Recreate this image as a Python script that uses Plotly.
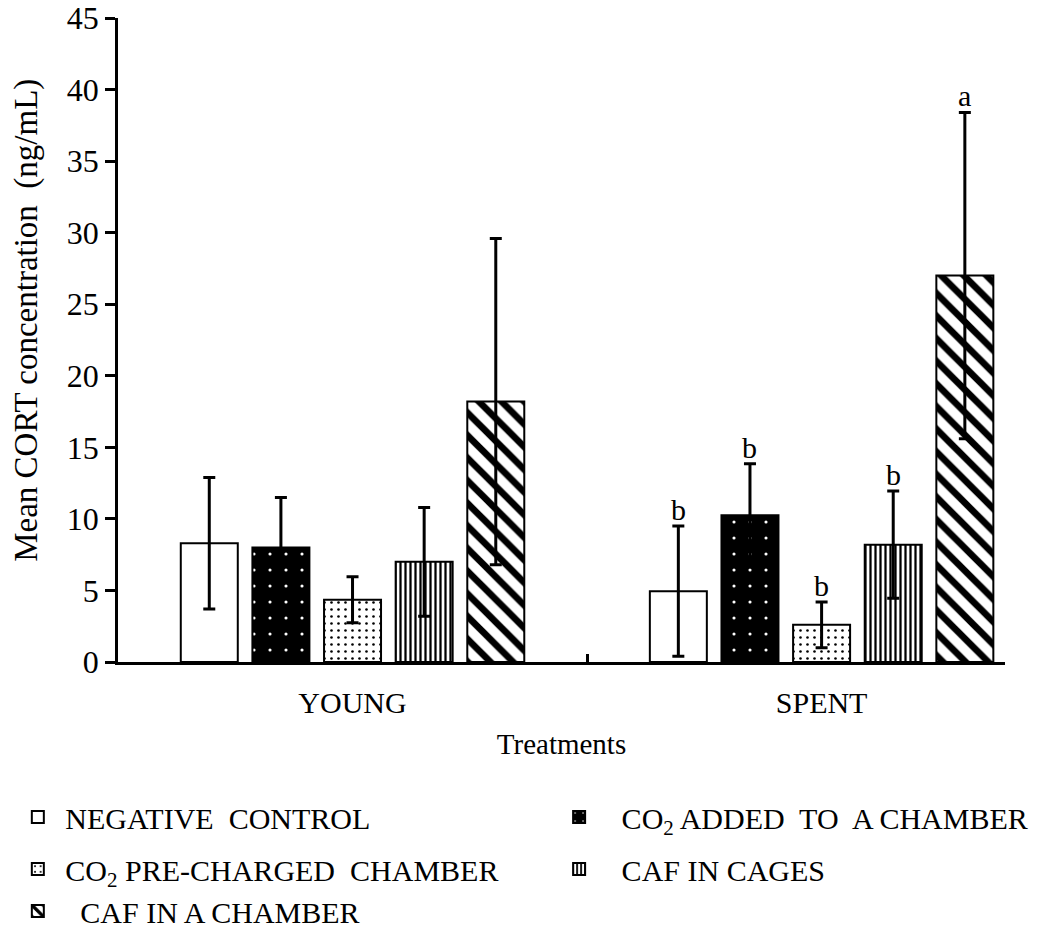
import plotly.graph_objects as go

# Groups on the x axis
groups = ["YOUNG", "SPENT"]

# Treatments (legend entries)
treatments = [
    "NEGATIVE\u00a0 CONTROL",
    "CO<sub>2</sub> ADDED\u00a0 TO\u00a0 A CHAMBER",
    "CO<sub>2</sub> PRE-CHARGED\u00a0 CHAMBER",
    "CAF IN CAGES",
    "CAF IN A CHAMBER",
]

# Mean CORT (ng/mL) per treatment, for YOUNG and SPENT
young_mean = [8.3, 8.0, 4.35, 7.0, 18.2]
spent_mean = [4.95, 10.25, 2.6, 8.2, 27.0]

# Error bar half-lengths
young_err = [4.6, 3.5, 1.6, 3.8, 11.4]
spent_err = [4.55, 3.6, 1.6, 3.75, 11.4]

# Significance letters (SPENT only)
young_sig = ["", "", "", "", ""]
spent_sig = ["b", "b", "b", "b", "a"]

FONT = "Liberation Serif"

# fill styles for each treatment
styles = [
    dict(color="white", pattern=dict(shape="")),
    dict(color="black", pattern=dict(shape=".", fgcolor="white", bgcolor="black",
                                     fgopacity=1, size=16, solidity=0.03)),
    dict(color="white", pattern=dict(shape=".", fgcolor="black", bgcolor="white",
                                     fgopacity=1, size=7, solidity=0.11)),
    dict(color="white", pattern=dict(shape="|", fgcolor="black", bgcolor="white",
                                     fgopacity=1, size=5, solidity=0.45)),
    dict(color="white", pattern=dict(shape="\\", fgcolor="black", bgcolor="white",
                                     fgopacity=1, size=16, solidity=0.42)),
]

slot = 0.1527
bar_w = 0.1215
group_x = list(range(len(groups)))
x_range = [-0.5, 1.391]

# legend placement (container fractions) and name prefixes
leg_pos = [
    (0.017, 1 - 817 / 930),
    (0.533, 1 - 817 / 930),
    (0.017, 1 - 869 / 930),
    (0.533, 1 - 869 / 930),
    (0.017, 1 - 911 / 930),
]
leg_pad = ["\u00a0", "\u00a0\u00a0\u00a0", "\u00a0", "\u00a0\u00a0\u00a0", "\u00a0\u00a0\u00a0"]

fig = go.Figure()
annotations = []
for i, name in enumerate(treatments):
    off = (i - 2) * slot
    xs = [g + off for g in group_x]
    lid = "legend" if i == 0 else f"legend{i + 1}"
    fig.add_trace(go.Bar(
        x=xs,
        y=[young_mean[i], spent_mean[i]],
        width=bar_w,
        name=leg_pad[i] + name,
        legend=lid,
        marker=dict(color=styles[i]["color"], pattern=styles[i]["pattern"],
                    line=dict(color="black", width=2), opacity=1),
        error_y=dict(type="data", array=[young_err[i], spent_err[i]],
                     color="black", thickness=3, width=6),
    ))
    for gx, m, e, s in zip(xs, [young_mean[i], spent_mean[i]],
                           [young_err[i], spent_err[i]],
                           [young_sig[i], spent_sig[i]]):
        if s:
            annotations.append(dict(x=gx, y=m + e, text=s, showarrow=False,
                                    yanchor="bottom", yshift=-2,
                                    font=dict(family=FONT, size=30, color="black")))

# y axis title
annotations.append(dict(text="Mean CORT concentration\u00a0 (ng/mL)", textangle=-90,
                        xref="paper", yref="paper", x=-0.104, y=0.531,
                        xanchor="center", yanchor="middle", showarrow=False,
                        font=dict(family=FONT, size=33, color="black")))

legends = {}
for i in range(len(treatments)):
    key = "legend" if i == 0 else f"legend{i + 1}"
    legends[key] = dict(x=leg_pos[i][0], y=leg_pos[i][1], xref="container",
                        yref="container", xanchor="left", yanchor="middle",
                        bgcolor="rgba(0,0,0,0)",
                        font=dict(family=FONT, size=30, color="black"))

fig.update_layout(
    width=1049, height=930,
    margin=dict(l=118, r=44, t=18, b=268, autoexpand=False),
    plot_bgcolor="white", paper_bgcolor="white",
    font=dict(family=FONT, color="black"),
    barmode="overlay",
    showlegend=True,
    annotations=annotations,
    xaxis=dict(
        range=x_range,
        tickmode="array", tickvals=group_x, ticktext=groups,
        ticks="", showgrid=False, zeroline=False,
        showline=True, linecolor="black", linewidth=2.5,
        tickfont=dict(family=FONT, size=30, color="black"),
        ticklabelstandoff=12,
        # divider tick between the two groups
        minor=dict(tickmode="array", tickvals=[0.5], ticks="inside", ticklen=8,
                   tickwidth=3, tickcolor="black", showgrid=False),
        title=dict(text="Treatments", font=dict(family=FONT, size=29, color="black"),
                   standoff=16),
    ),
    yaxis=dict(
        range=[0, 45], dtick=5,
        ticks="outside", ticklen=10, tickwidth=2.5, tickcolor="black",
        showgrid=False, zeroline=False,
        showline=True, linecolor="black", linewidth=2.5,
        tickfont=dict(family=FONT, size=32, color="black"),
    ),
    **legends,
)

fig.write_html("out.html")
